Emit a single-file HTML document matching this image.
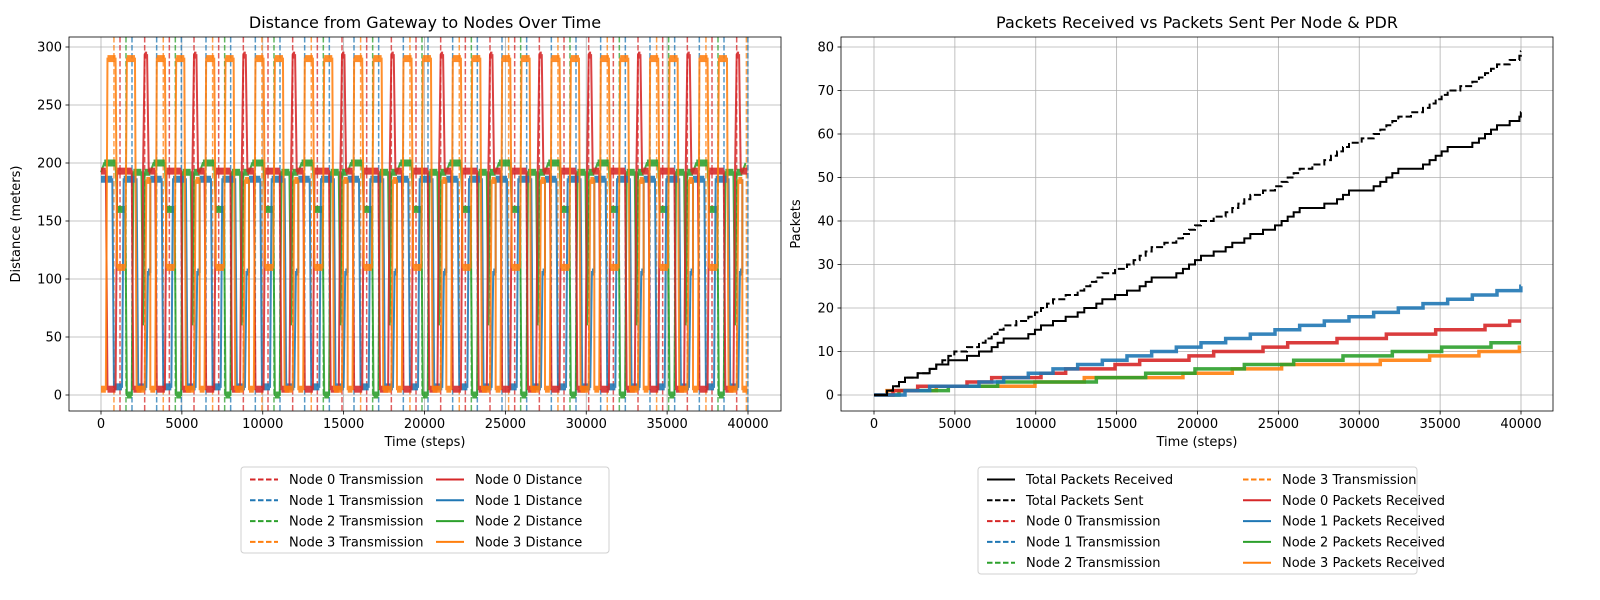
<!DOCTYPE html>
<html><head><meta charset="utf-8">
<style>
html,body{margin:0;padding:0;background:#fff;width:1600px;height:600px;overflow:hidden;font-family:"Liberation Sans","DejaVu Sans",sans-serif;}
svg{display:block;position:absolute;left:0;top:0;}
svg text{font-family:"DejaVu Sans","Liberation Sans",sans-serif;fill:#000;}
</style></head>
<body>
<svg id="chart" width="1600" height="600" viewBox="0 0 1600 600" xmlns="http://www.w3.org/2000/svg">
<defs>
<clipPath id="clipL"><rect x="69" y="37" width="712" height="374"/></clipPath>
<clipPath id="clipR"><rect x="841" y="37" width="712" height="374"/></clipPath>
</defs>
<g id="left"></g>
<g id="right"></g>
</svg>
<script>
// ---- data ----
const xTicks = [0,5000,10000,15000,20000,25000,30000,35000,40000];
const yTicksL = [0,50,100,150,200,250,300];
const yTicksR = [0,10,20,30,40,50,60,70,80];
const node0Tx = [1175,2700,4225,5750,7275,8800,10325,11850,13375,14900,16425,17950,19475,21000,22525,24050,25575,27100,28625,30150,31675,33200,34725,36250,37775,39300];
const node1Tx = [1916,3441,4966,6491,8016,9541,11066,12591,14116,15641,17166,18691,20216,21741,23266,24791,26316,27841,29366,30891,32416,33941,35466,36991,38516,39990];
const node2Tx = [1545,4595,7645,10695,13745,16795,19845,22895,25945,28995,32045,35095,38145];
const node3Tx = [800,3850,6900,9950,13000,16050,19100,22150,25200,28250,31300,34350,37400,39900];
const node0Recv = [1,1,0,1,1,0,1,1,0,1,1,0,1,1,0,1,1,0,1,0,1,0,1,0,1,1];
const node1Recv = [1,1,0,1,1,1,1,1,1,1,1,1,1,1,1,1,1,1,1,1,1,1,1,1,1,1];
const node2Recv = [1,1,1,0,1,1,1,1,1,1,1,1,1];
const node3Recv = [1,1,0,1,1,0,1,1,1,0,1,1,1,1];
const cycleStarts = [0,3050,6100,9150,12200,15250,18300,21350,24400,27450,30500,33550,36600,39650];
const node0ShapeT = [0,300,400,900,1000,1900,2000,2500,2600,2700,2850,2950,3049];
const node0ShapeV = [193,193,5,5,193,193,5,5,193,293,293,193,193];
const node1ShapeT = [0,700,800,1300,1400,2200,2300,2800,2900,3049];
const node1ShapeV = [186,186,7,7,186,186,7,7,106,106];
const node2ShapeT = [0,200,900,1000,1500,1600,1900,2000,2500,2600,2700,3049];
const node2ShapeV = [192,200,200,160,160,0,0,192,192,60,192,192];
const node3ShapeT = [0,300,400,900,1000,1500,1600,2100,2200,2700,2800,3049];
const node3ShapeV = [5,5,290,290,110,110,290,290,5,5,185,185];

const colors = ['#d62728','#1f77b4','#2ca02c','#ff7f0e'];
const NS='http://www.w3.org/2000/svg';
const xL=t=>101+t*0.016175, yL=v=>395-v*1.16;
const xR=t=>874+t*0.016175, yR=v=>395-v*4.35;
function mk(parent,tag,attrs,text){const e=document.createElementNS(NS,tag);for(const k in attrs)e.setAttribute(k,attrs[k]);if(text!==undefined)e.textContent=text;parent.appendChild(e);return e;}

function axes(g,x0,x1,xs,ys,yTicks,title,ylabel,clip){
  const grid=mk(g,'g',{});
  
  
  xTicks.forEach(t=>{mk(grid,'line',{x1:xs(t),x2:xs(t),y1:37,y2:411,stroke:'#b0b0b0','stroke-width':0.8});
    const tl=mk(g,'text',{x:xs(t),y:428,'font-size':13,'text-anchor':'middle'},String(t));
    
    
    mk(g,'line',{x1:xs(t),x2:xs(t),y1:411,y2:414.5,stroke:'#000','stroke-width':0.8});});
  yTicks.forEach(v=>{mk(grid,'line',{x1:x0,x2:x1,y1:ys(v),y2:ys(v),stroke:'#b0b0b0','stroke-width':0.8});
    const tl=mk(g,'text',{x:x0-7,y:ys(v)+4.5,'font-size':13,'text-anchor':'end'},String(v));
    
    
    mk(g,'line',{x1:x0-3.5,x2:x0,y1:ys(v),y2:ys(v),stroke:'#000','stroke-width':0.8});});
  const tt=mk(g,'text',{x:(x0+x1)/2,y:28,'font-size':16,'text-anchor':'middle'},title);
  
  
  const xl=mk(g,'text',{x:(x0+x1)/2,y:446,'font-size':13,'text-anchor':'middle'},'Time (steps)');
  
  
  const cy=224;
  const yl=mk(g,'text',{x:x0-49,y:cy,'font-size':13,'text-anchor':'middle',transform:`rotate(-90 ${x0-49} ${cy})`},ylabel);
  if(x0>800){yl.setAttribute('x',x0-41);yl.setAttribute('transform',`rotate(-90 ${x0-41} ${cy})`);}
  
  
  return mk(g,'g',{'clip-path':`url(#${clip})`});
}
function frame(g,x0,x1){const f=mk(g,'rect',{x:x0,y:37,width:x1-x0,height:374,fill:'none',stroke:'#000','stroke-width':0.8});
  
  }

function legend(g,x,y,w,h,items,col2x,rows){
  const lg=mk(g,'g',{});
  
  
  mk(lg,'rect',{x:x,y:y,width:w,height:h,rx:3,fill:'#fff',stroke:'#d0d0d0','stroke-width':1});
  items.forEach((it,i)=>{const c=Math.floor(i/rows),r=i%rows;
    const lx=c?col2x:x+9, ly=y+12.5+r*20.8;
    const e=mk(lg,'g',{});
    
    
    mk(e,'line',{x1:lx,x2:lx+28,y1:ly,y2:ly,stroke:it[1],'stroke-width':2,'stroke-dasharray':it[2]?'5.5,2.5':'none'});
    mk(e,'text',{x:lx+39,y:ly+4.5,'font-size':13},it[0]);});
}

// ---- left chart ----
const gL=document.getElementById('left');
const pL=axes(gL,69,781,xL,yL,yTicksL,'Distance from Gateway to Nodes Over Time','Distance (meters)','clipL');
const txAll=[node0Tx,node1Tx,node2Tx,node3Tx];
txAll.forEach((arr,n)=>arr.forEach(t=>{
  const l=mk(pL,'line',{x1:xL(t),x2:xL(t),y1:37,y2:411,stroke:colors[n],'stroke-width':1.5,'stroke-dasharray':'5.5,2.5',opacity:0.75});
  
  }));
const shapes=[[node0ShapeT,node0ShapeV],[node1ShapeT,node1ShapeV],[node2ShapeT,node2ShapeV],[node3ShapeT,node3ShapeV]];
const order=[2,1,0,3];
order.forEach(n=>{
  const pts=[];
  cycleStarts.forEach(s=>shapes[n][0].forEach((o,i)=>{const t=s+o;if(t<=40000)pts.push([t,shapes[n][1][i]]);}));
  const g=mk(pL,'g',{opacity:0.88});
  
  
  mk(g,'polyline',{points:pts.map(p=>xL(p[0])+','+yL(p[1])).join(' '),fill:'none',stroke:colors[n],'stroke-width':2});
  for(let i=1;i<pts.length;i++){if(pts[i][1]===pts[i-1][1])
    mk(g,'line',{x1:xL(pts[i-1][0]),x2:xL(pts[i][0]),y1:yL(pts[i][1]),y2:yL(pts[i][1]),stroke:colors[n],'stroke-width':7});}
});
frame(gL,69,781);
legend(gL,241,467,368,86,[['Node 0 Transmission',colors[0],1],['Node 1 Transmission',colors[1],1],['Node 2 Transmission',colors[2],1],['Node 3 Transmission',colors[3],1],['Node 0 Distance',colors[0],0],['Node 1 Distance',colors[1],0],['Node 2 Distance',colors[2],0],['Node 3 Distance',colors[3],0]],436,4);

// ---- right chart ----
const gR=document.getElementById('right');
const pR=axes(gR,841,1553,xR,yR,yTicksR,'Packets Received vs Packets Sent Per Node & PDR','Packets','clipR');
function stepPath(times){
  const ts=times.slice().sort((a,b)=>a-b);let v=0;let d=`M${xR(0)},${yR(0)}`;
  ts.forEach(t=>{d+=` H${xR(t)}`;v++;d+=` V${yR(v)}`;});
  d+=` H${xR(40000)}`;return d;}
const recvFlags=[node0Recv,node1Recv,node2Recv,node3Recv];
const recvTimes=txAll.map((arr,n)=>arr.filter((t,i)=>recvFlags[n][i]));
const allSent=[].concat(...txAll);
const allRecv=[].concat(...recvTimes);
[3,2,0,1].forEach(n=>{
  const p=mk(pR,'path',{d:stepPath(recvTimes[n]),fill:'none',stroke:colors[n],'stroke-width':3.5,opacity:0.9});
  
  });
const ps=mk(pR,'path',{d:stepPath(allSent),fill:'none',stroke:'#000','stroke-width':2,'stroke-dasharray':'7,3'});


const pr=mk(pR,'path',{d:stepPath(allRecv),fill:'none',stroke:'#000','stroke-width':2});


frame(gR,841,1553);
legend(gR,978,467,439,107,[['Total Packets Received','#000',0],['Total Packets Sent','#000',1],['Node 0 Transmission',colors[0],1],['Node 1 Transmission',colors[1],1],['Node 2 Transmission',colors[2],1],['Node 3 Transmission',colors[3],1],['Node 0 Packets Received',colors[0],0],['Node 1 Packets Received',colors[1],0],['Node 2 Packets Received',colors[2],0],['Node 3 Packets Received',colors[3],0]],1243,5);
</script>
</body></html>
